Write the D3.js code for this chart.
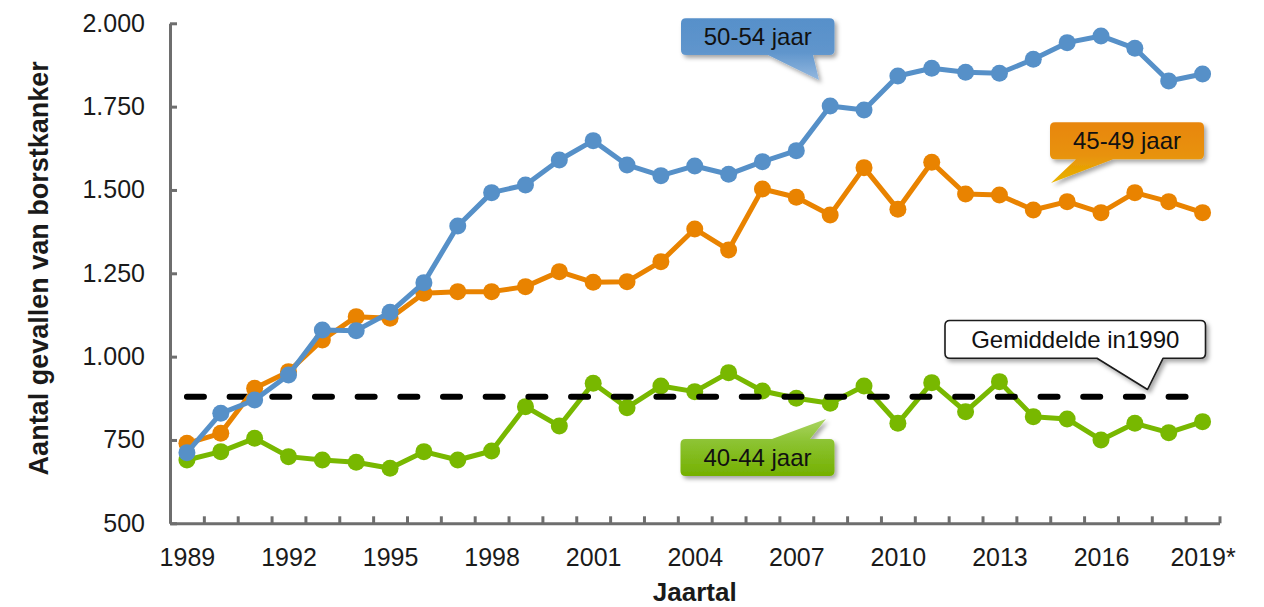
<!DOCTYPE html>
<html>
<head>
<meta charset="utf-8">
<script src="https://cdn.jsdelivr.net/npm/d3@7"></script>
<style>
  html, body { margin: 0; padding: 0; background: #fff; }
  svg { display: block; font-family: "Liberation Sans", Arial, sans-serif; }
</style>
</head>
<body>
<svg id="chart" width="1264" height="607"></svg>
<script>
// ---------- data ----------
const years = [1989,1990,1991,1992,1993,1994,1995,1996,1997,1998,1999,2000,2001,2002,2003,2004,2005,2006,2007,2008,2009,2010,2011,2012,2013,2014,2015,2016,2017,2018,2019];
const seriesNames = ["40-44 jaar", "45-49 jaar", "50-54 jaar"];
const values4044 = [690,715,755,700,690,683,665,715,690,717,850,792,920,847,912,895,952,897,875,860,912,800,922,835,925,820,813,750,800,772,805];
const values4549 = [740,770,905,955,1050,1120,1115,1190,1195,1195,1210,1255,1223,1225,1285,1383,1320,1503,1478,1425,1567,1442,1583,1488,1485,1440,1465,1432,1492,1465,1432];
const values5054 = [712,830,870,945,1080,1078,1133,1222,1392,1492,1515,1590,1648,1575,1543,1572,1547,1585,1618,1752,1740,1842,1865,1853,1850,1892,1942,1962,1925,1827,1848];
const average1990 = 880;
const averageLabel = "Gemiddelde in1990";
const yTicks = [500,750,1000,1250,1500,1750,2000];
const xTickYears = [1989,1992,1995,1998,2001,2004,2007,2010,2013,2016,2019];
const xTickLabels = ["1989","1992","1995","1998","2001","2004","2007","2010","2013","2016","2019*"];
const yTitle = "Aantal gevallen van borstkanker";
const xTitle = "Jaartal";

// ---------- layout ----------
const svg = d3.select("#chart");
const plot = { left: 170, right: 1219.5, top: 23.3, bottom: 523.3 };
const colors = { "40-44 jaar": "#78B800", "45-49 jaar": "#E98300", "50-54 jaar": "#5690C8" };

const xBand = d3.scaleBand().domain(years).range([plot.left, plot.right]).padding(0);
const xc = yr => xBand(yr) + xBand.bandwidth() / 2;
const y = d3.scaleLinear().domain([500, 2000]).range([plot.bottom, plot.top]);

const nl = d3.formatLocale({ decimal: ",", thousands: ".", grouping: [3], currency: ["€", ""] });
const fmt = nl.format(",d");

// defs: shadow + gradients
const defs = svg.append("defs");
const f = defs.append("filter").attr("id", "shadow").attr("x", "-20%").attr("y", "-20%").attr("width", "140%").attr("height", "160%");
f.append("feDropShadow").attr("dx", 2.5).attr("dy", 3).attr("stdDeviation", 2.2).attr("flood-color", "#000").attr("flood-opacity", 0.35);

function grad(id, y1, y2, stops) {
  const g = defs.append("linearGradient").attr("id", id).attr("gradientUnits", "userSpaceOnUse")
    .attr("x1", 0).attr("x2", 0).attr("y1", y1).attr("y2", y2);
  stops.forEach(s => g.append("stop").attr("offset", s[0]).attr("stop-color", s[1]));
}
grad("gBlue", 18, 80, [[0, "#5790CA"], [0.55, "#5F95CC"], [1, "#94B8DF"]]);
grad("gOrange", 122, 183, [[0, "#E8860A"], [0.55, "#E8920A"], [1, "#E8B400"]]);
grad("gGreen", 419, 476, [[0, "#AAD462"], [0.4, "#8CC332"], [1, "#74B000"]]);

// ---------- axes ----------
const axisColor = "#6E6E6E";
const yAxis = svg.append("g").attr("transform", `translate(${plot.left},0)`)
  .call(d3.axisLeft(y).tickValues(yTicks).tickSize(-7).tickSizeOuter(0).tickPadding(25).tickFormat(fmt));
yAxis.selectAll("path.domain").attr("stroke", axisColor).attr("stroke-width", 3);
yAxis.selectAll(".tick line").attr("stroke", axisColor).attr("stroke-width", 3);
yAxis.selectAll(".tick text").attr("font-size", 25).attr("fill", "#1a1a1a").style("font-family", "Liberation Sans, Arial, sans-serif");

const boundaryScale = d3.scaleLinear().domain([0, years.length]).range([plot.left, plot.right]);
const xAxisTicks = svg.append("g").attr("transform", `translate(0,${plot.bottom})`)
  .call(d3.axisBottom(boundaryScale).tickValues(d3.range(1, years.length + 1)).tickSize(-7).tickSizeOuter(0).tickFormat(""));
xAxisTicks.selectAll("path.domain").attr("stroke", axisColor).attr("stroke-width", 3);
xAxisTicks.selectAll(".tick line").attr("stroke", axisColor).attr("stroke-width", 3);

const xPoint = d3.scalePoint().domain(years).range([xc(years[0]), xc(years[years.length - 1])]);
const xLabels = svg.append("g").attr("transform", `translate(0,${plot.bottom})`)
  .call(d3.axisBottom(xPoint).tickValues(xTickYears).tickSize(0).tickPadding(25)
    .tickFormat(d => xTickLabels[xTickYears.indexOf(d)]));
xLabels.select("path.domain").remove();
xLabels.selectAll(".tick text").attr("font-size", 25).attr("fill", "#1a1a1a").style("font-family", "Liberation Sans, Arial, sans-serif");

// titles
svg.append("text").attr("transform", `translate(48,${(plot.top + plot.bottom) / 2 - 5}) rotate(-90)`)
  .attr("text-anchor", "middle").attr("font-size", 27).attr("font-weight", "bold").attr("fill", "#1a1a1a").text(yTitle);
svg.append("text").attr("x", (plot.left + plot.right) / 2).attr("y", 601)
  .attr("text-anchor", "middle").attr("font-size", 26).attr("font-weight", "bold").attr("fill", "#1a1a1a").text(xTitle);

// ---------- series ----------
const line = d3.line().x(d => xc(d.year)).y(d => y(d.value));
function drawSeries(name, vals) {
  const data = years.map((yr, i) => ({ year: yr, value: vals[i] }));
  const g = svg.append("g");
  g.append("path").datum(data).attr("d", line).attr("fill", "none")
    .attr("stroke", colors[name]).attr("stroke-width", 5).attr("stroke-linejoin", "round");
  g.selectAll("circle").data(data).join("circle")
    .attr("cx", d => xc(d.year)).attr("cy", d => y(d.value)).attr("r", 8.5).attr("fill", colors[name]);
}
drawSeries("40-44 jaar", values4044);

// average dashed line
svg.append("line")
  .attr("x1", xc(years[0])).attr("x2", xc(years[years.length - 1]))
  .attr("y1", y(average1990)).attr("y2", y(average1990))
  .attr("stroke", "#000").attr("stroke-width", 6).attr("stroke-linecap", "round")
  .attr("stroke-dasharray", "17,25.68");

drawSeries("45-49 jaar", values4549);
drawSeries("50-54 jaar", values5054);

// ---------- callouts ----------
function calloutPath(b, p) {
  const r = 5;
  let d = `M${b.x0 + r},${b.y0}`;
  if (p.side === "top") d += `L${p.a},${b.y0}L${p.tx},${p.ty}L${p.b},${b.y0}`;
  d += `L${b.x1 - r},${b.y0}Q${b.x1},${b.y0} ${b.x1},${b.y0 + r}`;
  d += `L${b.x1},${b.y1 - r}Q${b.x1},${b.y1} ${b.x1 - r},${b.y1}`;
  if (p.side === "bottom") d += `L${p.b},${b.y1}L${p.tx},${p.ty}L${p.a},${b.y1}`;
  d += `L${b.x0 + r},${b.y1}Q${b.x0},${b.y1} ${b.x0},${b.y1 - r}`;
  d += `L${b.x0},${b.y0 + r}Q${b.x0},${b.y0} ${b.x0 + r},${b.y0}Z`;
  return d;
}
const callouts = [
  { text: "50-54 jaar", fill: "url(#gBlue)", stroke: "none",
    box: { x0: 681, y0: 18.3, x1: 834.5, y1: 55 }, ptr: { side: "bottom", a: 768, b: 813, tx: 819, ty: 80 } },
  { text: "45-49 jaar", fill: "url(#gOrange)", stroke: "none",
    box: { x0: 1050, y0: 122.3, x1: 1204, y1: 159.3 }, ptr: { side: "bottom", a: 1076, b: 1113, tx: 1051, ty: 183 } },
  { text: "40-44 jaar", fill: "url(#gGreen)", stroke: "none",
    box: { x0: 680.5, y0: 439, x1: 834.5, y1: 476 }, ptr: { side: "top", a: 772, b: 810, tx: 826, ty: 419 } },
  { text: averageLabel, fill: "#fff", stroke: "#1a1a1a",
    box: { x0: 945, y0: 320.5, x1: 1205.5, y1: 358.3 }, ptr: { side: "bottom", a: 1097, b: 1163, tx: 1147.5, ty: 389.5 } }
];
callouts.forEach(c => {
  const g = svg.append("g");
  g.append("path").attr("d", calloutPath(c.box, c.ptr)).attr("fill", c.fill)
    .attr("stroke", c.stroke).attr("stroke-width", 1.6).attr("stroke-linejoin", "round")
    .attr("filter", "url(#shadow)");
  g.append("text").attr("x", (c.box.x0 + c.box.x1) / 2).attr("y", (c.box.y0 + c.box.y1) / 2 + 8.5)
    .attr("text-anchor", "middle").attr("font-size", 24).attr("fill", "#111").text(c.text);
});
</script>
</body>
</html>
